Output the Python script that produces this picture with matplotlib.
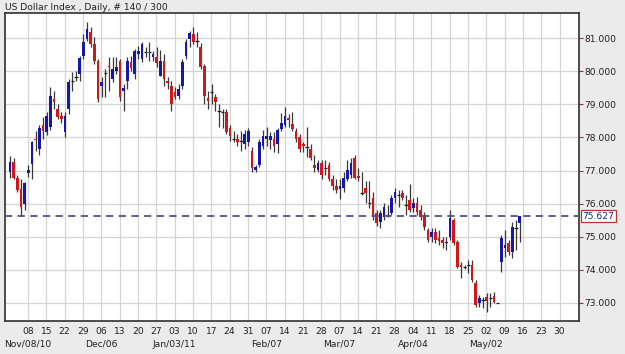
import matplotlib
matplotlib.use("Agg")
import matplotlib.pyplot as plt
import numpy as np

# Daily OHLC, Nov 01 2010 .. May 13 2011 (140 bars)
opens = [
    76.97, 77.27, 76.79, 76.45, 76.00, 76.94, 77.21, 77.94, 77.64, 78.39,
    78.15, 78.33, 79.15, 78.85, 78.64, 78.15, 78.85, 79.70, 79.82, 79.91,
    80.45, 80.97, 81.18, 80.82, 80.30, 79.55, 79.94, 80.15, 79.76, 80.00,
    80.30, 79.39, 79.70, 80.27, 79.91, 80.52, 80.36, 80.58, 80.58, 80.42,
    80.42, 79.85, 80.30, 79.70, 79.55, 79.36, 79.24, 79.55, 80.45, 80.97,
    81.12, 80.91, 80.73, 80.15, 79.18, 79.36, 79.21, 78.79, 78.76, 78.76,
    78.30, 77.94, 77.94, 77.88, 77.79, 77.85, 77.58, 77.03, 77.18, 77.73,
    77.94, 77.91, 77.94, 77.79, 78.27, 78.39, 78.58, 78.42, 78.18, 78.00,
    77.79, 77.70, 77.64, 77.18, 77.03, 77.24, 77.09, 77.18, 76.73, 76.52,
    76.45, 76.48, 76.73, 76.88, 77.39, 76.85, 76.33, 76.48, 76.03, 76.18,
    75.73, 75.45, 75.61, 75.67, 75.73, 76.18, 76.27, 76.33, 75.97, 76.12,
    75.88, 76.03, 75.82, 75.67, 75.21, 75.00, 75.15, 74.97, 74.91, 74.82,
    75.00, 75.52, 74.85, 74.15, 74.09, 74.15, 74.15, 73.61, 73.00, 73.09,
    73.18, 73.15, 73.21, 73.00, 74.24, 74.67, 74.82, 74.55, 75.27, 75.42,
]
highs = [
    77.45, 77.39, 76.88, 76.73, 76.64, 77.18, 77.88, 78.18, 78.39, 78.61,
    78.76, 79.52, 79.39, 79.00, 78.76, 78.76, 79.76, 79.97, 80.00, 80.45,
    81.12, 81.48, 81.33, 81.03, 80.36, 79.82, 80.06, 80.42, 80.42, 80.42,
    80.36, 79.61, 80.42, 80.45, 80.67, 80.76, 80.88, 80.73, 80.88, 80.61,
    80.73, 80.64, 80.52, 79.82, 79.70, 79.52, 79.61, 80.36, 80.97, 81.21,
    81.33, 81.18, 80.85, 80.21, 79.39, 79.61, 79.30, 79.00, 78.85, 78.85,
    78.39, 78.18, 78.09, 78.18, 78.24, 78.30, 77.70, 77.18, 77.94, 78.24,
    78.33, 78.15, 78.15, 78.30, 78.73, 78.91, 78.70, 78.76, 78.30, 78.09,
    77.85, 78.33, 77.79, 77.48, 77.33, 77.33, 77.33, 77.27, 76.88, 76.73,
    76.73, 76.97, 77.33, 77.39, 77.48, 77.09, 76.97, 76.67, 76.67, 76.36,
    75.82, 75.82, 76.03, 75.97, 76.27, 76.48, 76.42, 76.42, 76.27, 76.58,
    76.18, 76.21, 75.97, 75.76, 75.27, 75.27, 75.27, 75.21, 75.00, 75.00,
    75.82, 75.58, 74.91, 74.24, 74.15, 74.30, 74.30, 73.70, 73.24, 73.18,
    73.30, 73.30, 73.33, 73.00, 75.06, 75.21, 74.91, 75.45, 75.52, 75.64,
]
lows = [
    76.79, 76.73, 76.36, 75.64, 75.82, 76.82, 76.73, 77.58, 77.48, 77.94,
    78.06, 78.24, 78.85, 78.55, 78.45, 78.00, 78.70, 79.39, 79.70, 79.70,
    80.36, 80.91, 80.73, 80.21, 79.06, 79.21, 79.21, 79.39, 79.67, 79.91,
    79.09, 78.79, 79.45, 80.00, 79.76, 80.36, 80.27, 80.42, 80.30, 80.30,
    80.12, 79.85, 79.55, 79.45, 78.79, 79.15, 79.15, 79.45, 80.36, 80.73,
    80.82, 80.73, 80.06, 79.00, 78.85, 79.00, 78.79, 78.33, 78.30, 78.09,
    77.88, 77.85, 77.73, 77.58, 77.64, 77.73, 76.97, 76.97, 77.12, 77.64,
    77.73, 77.64, 77.55, 77.52, 78.21, 78.33, 78.33, 78.21, 77.85, 77.55,
    77.55, 77.42, 77.33, 76.97, 76.97, 76.73, 76.88, 76.67, 76.42, 76.33,
    76.15, 76.36, 76.67, 76.79, 76.73, 76.67, 76.27, 76.03, 75.88, 75.52,
    75.33, 75.27, 75.52, 75.61, 75.67, 76.03, 75.91, 76.12, 75.67, 75.76,
    75.76, 75.67, 75.52, 75.21, 74.85, 74.85, 74.82, 74.76, 74.67, 74.61,
    74.91, 74.76, 74.06, 73.76, 74.03, 73.91, 73.64, 72.88, 72.88, 72.85,
    72.73, 72.88, 73.00, 73.00, 73.94, 74.39, 74.45, 74.36, 74.61, 74.85,
]
closes = [
    77.27, 76.79, 76.42, 75.91, 76.61, 77.03, 77.85, 77.91, 78.30, 78.18,
    78.64, 79.24, 79.06, 78.61, 78.55, 78.64, 79.67, 79.70, 79.82, 80.39,
    80.88, 81.27, 80.82, 80.30, 79.15, 79.67, 79.94, 80.12, 80.06, 80.12,
    79.21, 79.48, 80.30, 80.09, 80.61, 80.61, 80.82, 80.58, 80.58, 80.52,
    80.24, 80.30, 79.76, 79.64, 79.00, 79.21, 79.45, 80.27, 80.88, 81.15,
    80.88, 80.91, 80.12, 79.24, 79.09, 79.36, 79.06, 78.79, 78.76, 78.15,
    78.03, 77.94, 77.85, 77.88, 78.09, 78.18, 77.09, 77.12, 77.85, 78.03,
    78.03, 78.03, 77.73, 78.24, 78.45, 78.64, 78.52, 78.27, 77.94, 77.64,
    77.73, 77.70, 77.39, 77.09, 77.24, 76.88, 77.09, 76.73, 76.52, 76.42,
    76.52, 76.79, 77.03, 77.24, 76.79, 76.79, 76.33, 76.33, 76.03, 75.61,
    75.42, 75.73, 75.91, 75.67, 76.18, 76.36, 76.27, 76.18, 75.97, 75.82,
    76.03, 75.76, 75.61, 75.30, 74.91, 75.15, 74.91, 74.88, 74.82, 74.85,
    75.58, 74.82, 74.09, 74.09, 74.09, 74.15, 73.70, 72.94, 73.15, 73.09,
    73.06, 73.15, 73.03, 73.00, 74.97, 74.76, 74.55, 75.30, 75.27, 75.63,
]
last_price = 75.627

day_labels = ["08", "15", "22", "29", "06", "13", "20", "27", "03", "10",
              "17", "24", "31", "07", "14", "21", "28", "07", "14", "21",
              "28", "04", "11", "18", "25", "02", "09", "16", "23", "30"]
month_labels = ["Nov/08/10", "Dec/06", "Jan/03/11", "Feb/07", "Mar/07", "Apr/04", "May/02"]
month_at = [0, 4, 8, 13, 17, 21, 25]
price_ticks = [73, 74, 75, 76, 77, 78, 79, 80, 81]

bg = "#ebebeb"
up_col = "#1818a8"
dn_col = "#d01818"

fig = plt.figure(figsize=(6.25, 3.54), dpi=100, facecolor=bg)
ax = fig.add_axes([0.008, 0.0932, 0.9184, 0.8701])
ax.set_facecolor("white")

o = np.array(opens); h = np.array(highs); l = np.array(lows); c = np.array(closes)
x = np.arange(len(o))

ax.vlines(x, l, h, color="#383838", linewidth=0.9, zorder=3)
doji = np.abs(c - o) < 0.02
body = ~doji
cols = np.where(c >= o, up_col, dn_col)
ax.bar(x[body], np.abs(c - o)[body], bottom=np.minimum(o, c)[body], width=0.75,
       color=cols[body], linewidth=0, zorder=4)
ax.hlines(c[doji], x[doji] - 0.45, x[doji] + 0.45, color="#202020", linewidth=0.9, zorder=4)

ax.axhline(last_price, color="#50508a", linewidth=1.3, linestyle=(0, (4, 3)), zorder=5)

# weekly ticks
wk = np.arange(len(day_labels)) * 5 + 4.9
ax.set_xticks(wk)
ax.set_xticklabels(day_labels)
for i, lab in zip(month_at, month_labels):
    ax.text(wk[i], -0.075, lab, transform=ax.get_xaxis_transform(),
            ha="center", va="center", fontsize=6.6, color="#202020")

ax.set_xlim(-1.36, 155.2)
ax.set_ylim(72.455, 81.76)
ax.yaxis.tick_right()
ax.set_yticks(price_ticks)
ax.set_yticklabels(["%.3f" % v for v in price_ticks])
ax.tick_params(axis="y", length=3, width=0.8, color="#804040", pad=1, labelsize=6.6, labelcolor="#202020")
ax.tick_params(axis="x", length=0, pad=4, labelsize=6.6, labelcolor="#202020")
ax.grid(True, color="#d4d4d4", linewidth=0.9)
ax.set_axisbelow(True)
for s in ax.spines.values():
    s.set_color("#303030")
    s.set_linewidth(1.2)

ax.text(1.006, last_price, "%.3f" % last_price, transform=ax.get_yaxis_transform(),
        ha="left", va="center", fontsize=6.6, color="#202080",
        bbox=dict(boxstyle="square,pad=0.15", facecolor="white", edgecolor="#c03030", linewidth=0.9),
        zorder=6, clip_on=False)

fig.text(0.008, 1 - 7 / 354, "US Dollar Index , Daily, # 140 / 300", ha="left", va="center",
         fontsize=6.6, color="#202020")

fig.savefig("out.png", dpi=100, facecolor=bg)
